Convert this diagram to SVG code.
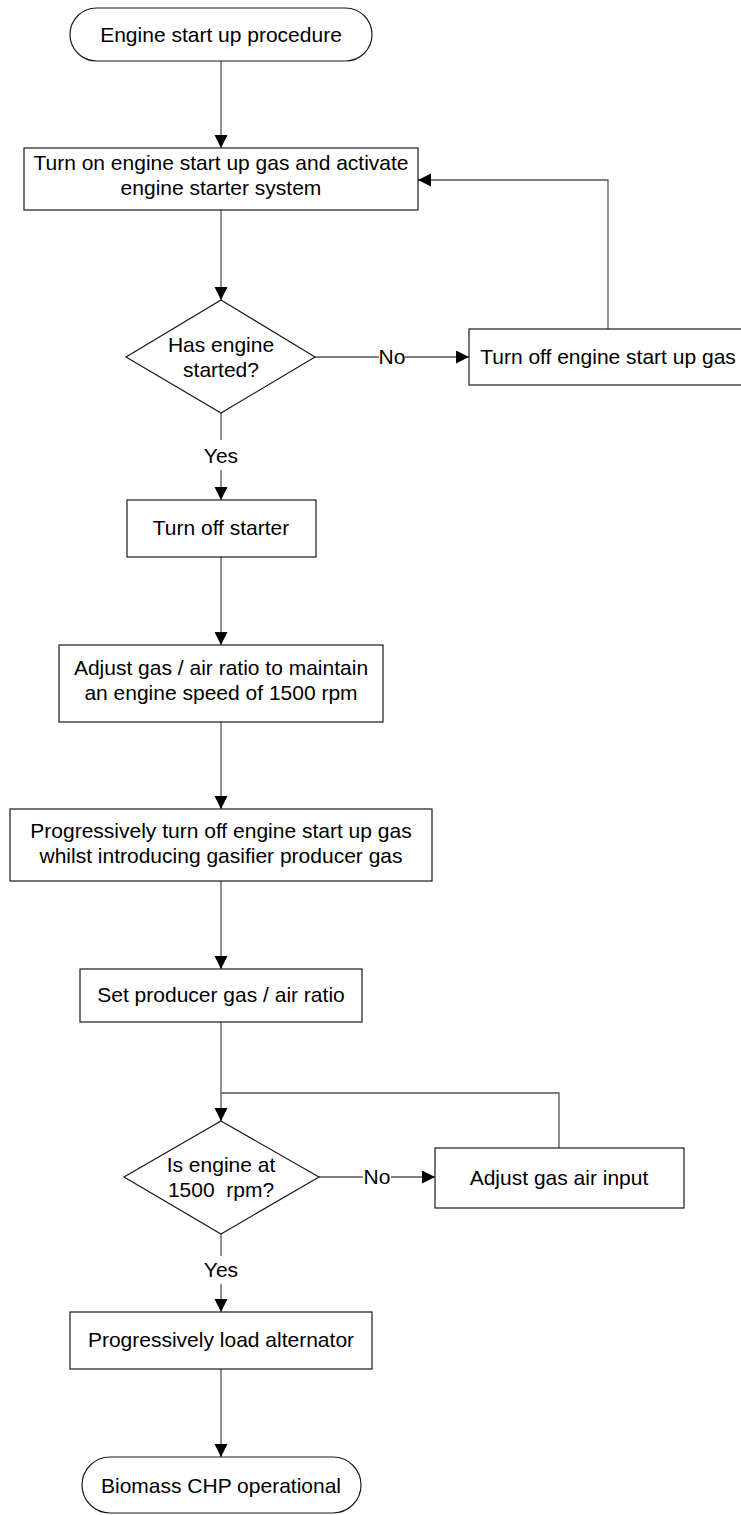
<svg xmlns="http://www.w3.org/2000/svg" width="741" height="1515" viewBox="0 0 741 1515">
<style>
.shape{fill:#fff;stroke:#1a1a1a;stroke-width:1.2}
.t{font-family:"Liberation Sans",Arial,sans-serif;font-size:21px;fill:#000;text-anchor:middle}
.c{fill:none;stroke:#555;stroke-width:1.3}
</style>
<defs>
<marker id="ah" markerUnits="userSpaceOnUse" markerWidth="14" markerHeight="14" refX="13" refY="6.5" orient="auto">
<path d="M0,0 L13,6.5 L0,13 Z" fill="#000"/>
</marker>
</defs>
<rect width="741" height="1515" fill="#fff"/>
<g id="connectors">
<line class="c" x1="221" y1="61" x2="221" y2="148" marker-end="url(#ah)"/>
<line class="c" x1="221" y1="210" x2="221" y2="300" marker-end="url(#ah)"/>
<line class="c" x1="315" y1="357" x2="379" y2="357"/>
<line class="c" x1="405" y1="357" x2="469" y2="357" marker-end="url(#ah)"/>
<polyline class="c" points="608,329 608,180 418,180" marker-end="url(#ah)"/>
<line class="c" x1="221" y1="413" x2="221" y2="440"/>
<line class="c" x1="221" y1="470" x2="221" y2="500" marker-end="url(#ah)"/>
<line class="c" x1="221" y1="557" x2="221" y2="645" marker-end="url(#ah)"/>
<line class="c" x1="221" y1="722" x2="221" y2="809" marker-end="url(#ah)"/>
<line class="c" x1="221" y1="881" x2="221" y2="969" marker-end="url(#ah)"/>
<line class="c" x1="221" y1="1022" x2="221" y2="1121" marker-end="url(#ah)"/>
<line class="c" x1="319" y1="1177" x2="363" y2="1177"/>
<line class="c" x1="391" y1="1177" x2="435" y2="1177" marker-end="url(#ah)"/>
<polyline class="c" points="559,1148 559,1093 221,1093"/>
<line class="c" x1="221" y1="1234" x2="221" y2="1256"/>
<line class="c" x1="221" y1="1284" x2="221" y2="1312" marker-end="url(#ah)"/>
<line class="c" x1="221" y1="1369" x2="221" y2="1457" marker-end="url(#ah)"/>
<text class="t" x="392" y="364">No</text>
<text class="t" x="221" y="463">Yes</text>
<text class="t" x="377" y="1184">No</text>
<text class="t" x="221" y="1277">Yes</text>
</g>
<g id="start">
<rect class="shape" x="70" y="8" width="302" height="53" rx="26.5" ry="26.5"/>
<text class="t" x="221" y="42">Engine start up procedure</text>
</g>
<g id="turn-on-gas">
<rect class="shape" x="24" y="148" width="394" height="62"/>
<text class="t" x="221" y="170">Turn on engine start up gas and activate</text>
<text class="t" x="221" y="195">engine starter system</text>
</g>
<g id="has-started">
<polygon class="shape" points="221,300 315,357 221,413 126,357"/>
<text class="t" x="221" y="352">Has engine</text>
<text class="t" x="221" y="377">started?</text>
</g>
<g id="turn-off-gas">
<rect class="shape" x="469" y="329" width="280" height="56"/>
<text class="t" x="608" y="364">Turn off engine start up gas</text>
</g>
<g id="turn-off-starter">
<rect class="shape" x="127" y="500" width="189" height="57"/>
<text class="t" x="221" y="535">Turn off starter</text>
</g>
<g id="adjust-ratio">
<rect class="shape" x="59" y="645" width="324" height="77"/>
<text class="t" x="221" y="675">Adjust gas / air ratio to maintain</text>
<text class="t" x="221" y="700">an engine speed of 1500 rpm</text>
</g>
<g id="progressive-switch">
<rect class="shape" x="10" y="809" width="422" height="72"/>
<text class="t" x="221" y="838">Progressively turn off engine start up gas</text>
<text class="t" x="221" y="863">whilst introducing gasifier producer gas</text>
</g>
<g id="set-ratio">
<rect class="shape" x="80" y="969" width="282" height="53"/>
<text class="t" x="221" y="1002">Set producer gas / air ratio</text>
</g>
<g id="at-1500">
<polygon class="shape" points="221,1121 319,1177 221,1234 124,1177"/>
<text class="t" x="221" y="1172" xml:space="preserve">Is engine at</text>
<text class="t" x="221" y="1197" xml:space="preserve">1500  rpm?</text>
</g>
<g id="adjust-input">
<rect class="shape" x="435" y="1148" width="249" height="60"/>
<text class="t" x="559" y="1185">Adjust gas air input</text>
</g>
<g id="load-alternator">
<rect class="shape" x="70" y="1312" width="302" height="57"/>
<text class="t" x="221" y="1347">Progressively load alternator</text>
</g>
<g id="end">
<rect class="shape" x="82" y="1457" width="279" height="56" rx="28" ry="28"/>
<text class="t" x="221" y="1493">Biomass CHP operational</text>
</g>
</svg>
